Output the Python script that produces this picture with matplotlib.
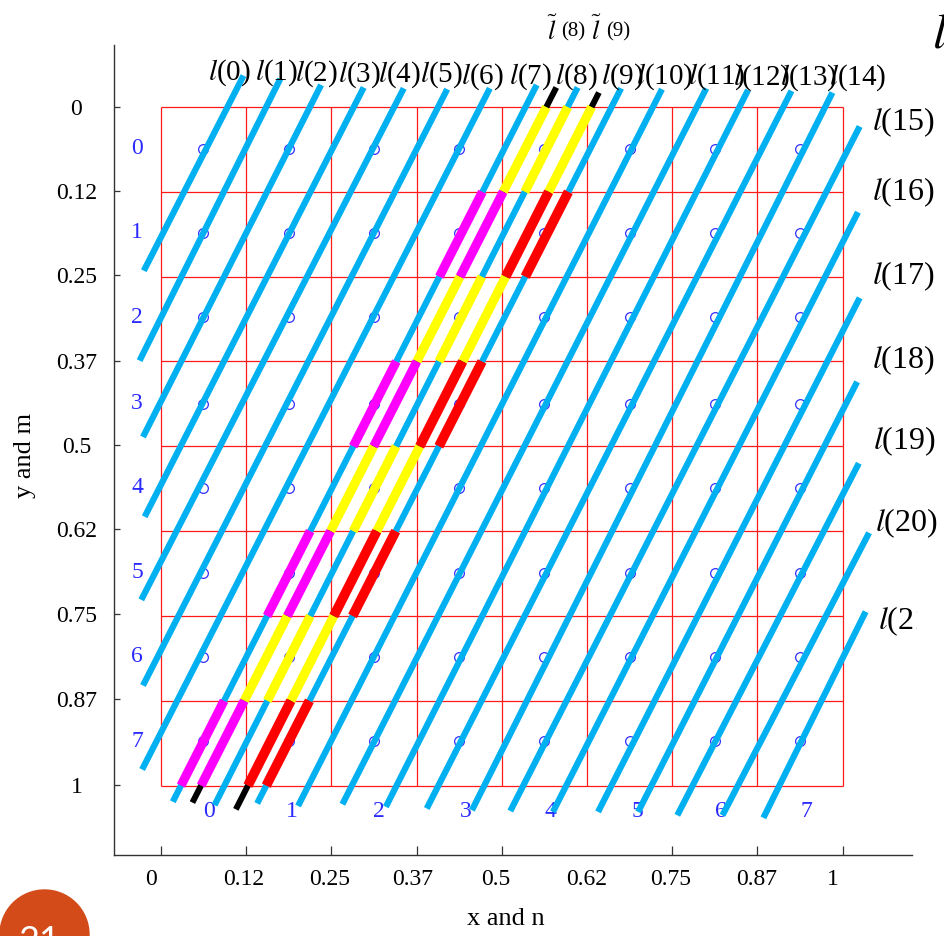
import matplotlib
matplotlib.use("Agg")
import matplotlib.pyplot as plt
from matplotlib.patches import Circle
from matplotlib.transforms import Bbox

plt.rcParams["font.family"] = ["Liberation Serif", "DejaVu Serif"]
plt.rcParams["mathtext.fontset"] = "stix"

# ---- data (cell units: x to the right, y downward, 8 x 8 cells) ----
grid_edges = [0, 1, 2, 3, 4, 5, 6, 7, 8]
cell_numbers = ["0", "1", "2", "3", "4", "5", "6", "7"]
circle_cols = [0.5, 1.5, 2.5, 3.5, 4.5, 5.5, 6.5, 7.5]
circle_rows = [0.49, 1.48, 2.48, 3.5, 4.49, 5.49, 6.48, 7.48]
col_label_x = [0.56, 1.54, 2.56, 3.58, 4.57, 5.59, 6.57, 7.58]

x_tick_marks = [0, 1, 2, 3, 4, 5, 6, 7, 8]
x_tick_text_pos = [-0.12, 0.97, 1.98, 2.96, 3.93, 5.0, 5.98, 6.99, 7.89]
y_tick_marks = [0, 0.99, 1.98, 3.0, 3.99, 4.97, 5.98, 6.98, 7.99]
tick_labels = ["0", "0.12", "0.25", "0.37", "0.5", "0.62", "0.75", "0.87", "1"]

# straight lines l(0) ... l(21): upper and lower end points
line_ids = list(range(22))
top_x = [0.97, 1.40, 1.88, 2.38, 2.85, 3.36, 3.86, 4.41, 4.89, 5.40, 5.88,
         6.40, 6.89, 7.40, 7.88, 8.20, 8.18, 8.20, 8.17, 8.19, 8.31, 8.27]
top_y = [-0.37, -0.33, -0.26, -0.23, -0.22, -0.21, -0.22, -0.26, -0.23, -0.22, -0.21,
         -0.22, -0.20, -0.19, -0.17, 0.23, 1.24, 2.25, 3.24, 4.20, 5.02, 5.95]
bot_x = [-0.20, -0.25, -0.21, -0.19, -0.23, -0.21, -0.22, 0.14, 0.63, 1.13, 1.61,
         2.13, 2.64, 3.12, 3.65, 4.10, 4.60, 5.13, 5.60, 6.06, 6.59, 7.07]
bot_y = [1.93, 2.99, 3.89, 4.83, 5.81, 6.82, 7.81, 8.19, 8.23, 8.21, 8.24,
         8.22, 8.25, 8.27, 8.29, 8.30, 8.31, 8.31, 8.31, 8.35, 8.35, 8.38]

# shifted lines l~(8), l~(9)
tilde_ids = ["8", "9"]
tilde_top_x = [4.64, 5.14]
tilde_top_y = [-0.23, -0.17]
tilde_bot_x = [0.37, 0.88]
tilde_bot_y = [8.20, 8.28]

# highlighted pieces: which lines are coloured in which cell rows
yellow_rows = [0, 2, 4, 6]
yellow_lines = ["~8", 8, "~9"]
magenta_rows = [1, 3, 5, 7]
magenta_lines = [7, "~8"]
red_rows = [1, 3, 5, 7]
red_lines = ["~9", 9]

# label anchors (left edge, baseline)
label_x = [0.55, 1.11, 1.57, 2.08, 2.55, 3.04, 3.52, 4.08, 4.63, 5.17, 5.58,
           6.19, 6.71, 7.26, 7.84, 8.34, 8.34, 8.35, 8.35, 8.36, 8.38, 8.42]
label_y = [-0.32, -0.32, -0.31, -0.30, -0.30, -0.30, -0.28, -0.28, -0.28, -0.27, -0.27,
           -0.27, -0.26, -0.26, -0.26, 0.27, 1.10, 2.09, 3.08, 4.04, 5.00, 6.16]
label_size = [21] * 15 + [23] * 7
tilde_l_x = [4.59, 5.11]
tilde_paren_x = [4.70, 5.22]
tilde_label_y = [-0.79, -0.79]

CYAN = "#00B0F0"
BLUE = "#2a2aff"

fig = plt.figure(figsize=(9.44, 9.36), dpi=100)
ax = fig.add_axes([0.12076, 0.08655, 0.84534, 0.86539])
ax.set_xlim(-0.55, 8.814)
ax.set_ylim(8.818, -0.731)

# red cell grid
ax.vlines(grid_edges, grid_edges[0], grid_edges[-1], color="#ff1a1a", lw=0.9, zorder=1)
ax.hlines(grid_edges, grid_edges[0], grid_edges[-1], color="#ff1a1a", lw=0.9, zorder=1)

# cell centres and indices
for r in circle_rows:
    ax.plot(circle_cols, [r] * len(circle_cols), "o", ms=7, mfc="none",
            mec="#3030ff", mew=0.9, zorder=2)
for num, r in zip(cell_numbers, circle_rows):
    ax.text(-0.28, r, num, color=BLUE, fontsize=17, ha="center", va="center", zorder=2)
for num, cx in zip(cell_numbers, col_label_x):
    ax.text(cx, 8.30, num, color=BLUE, fontsize=17, ha="center", va="center", zorder=2)

# the family of lines
ends = {}
for i in line_ids:
    ends[i] = (top_x[i], top_y[i], bot_x[i], bot_y[i])
    ax.plot([top_x[i], bot_x[i]], [top_y[i], bot_y[i]], color=CYAN, lw=4.5,
            solid_capstyle="butt", zorder=3, clip_on=False)
for k, t in enumerate(tilde_ids):
    ends["~" + t] = (tilde_top_x[k], tilde_top_y[k], tilde_bot_x[k], tilde_bot_y[k])
    ax.plot([tilde_top_x[k], tilde_bot_x[k]], [tilde_top_y[k], tilde_bot_y[k]],
            color="black", lw=4.3, solid_capstyle="butt", zorder=4, clip_on=False)


def x_at(line, y):
    x0, y0, x1, y1 = ends[line]
    return x0 + (x1 - x0) * (y - y0) / (y1 - y0)


for rows, lines, col, lw in [(yellow_rows, yellow_lines, "#ffff00", 6.6),
                             (magenta_rows, magenta_lines, "#ff00ff", 6.6),
                             (red_rows, red_lines, "#ff0000", 7.0)]:
    for line in lines:
        for r in rows:
            ax.plot([x_at(line, r), x_at(line, r + 1)], [r, r + 1], color=col, lw=lw,
                    solid_capstyle="butt", zorder=5)

# line names
name_texts = []
for i in line_ids:
    name_texts.append(ax.text(label_x[i], label_y[i], r"$l$(%d)" % i,
                              fontsize=label_size[i], ha="left", va="baseline",
                              clip_on=False, zorder=6))
# the last name runs past the edge of its text box
name_texts[-1].set_clip_on(True)
name_texts[-1].set_clip_box(Bbox.from_extents(0, 0, 917, 936))

for k, t in enumerate(tilde_ids):
    ax.text(tilde_l_x[k], tilde_label_y[k], r"$\tilde{l}$", fontsize=19,
            ha="center", va="baseline", clip_on=False, zorder=6)
    ax.text(tilde_paren_x[k], tilde_label_y[k] - 0.04, "(%s)" % t, fontsize=15,
            ha="left", va="baseline", clip_on=False, zorder=6)
ax.text(9.05, -0.707, r"$l$", fontsize=36, ha="left", va="baseline", clip_on=False)

# axes styling
for side in ["top", "right"]:
    ax.spines[side].set_visible(False)
for side in ["left", "bottom"]:
    ax.spines[side].set_color("#333333")
    ax.spines[side].set_linewidth(1.0)

ax.set_xticks(x_tick_text_pos, tick_labels)
ax.set_xticks(x_tick_marks, minor=True)
ax.set_yticks(y_tick_marks, tick_labels)
ax.tick_params(axis="x", which="major", length=0, pad=10, labelsize=17)
ax.tick_params(axis="x", which="minor", direction="in", length=6.5, width=0.9, color="#333333")
ax.tick_params(axis="y", which="major", direction="in", length=4.3, width=0.9,
               color="#333333", pad=27, labelsize=17)
for lab in ax.get_yticklabels():
    lab.set_ha("center")

ax.set_xlabel("x and n", fontsize=19)
ax.xaxis.set_label_coords(0.491, -0.0790)
ax.xaxis.label.set_va("center")
ax.set_ylabel("y and m", fontsize=19)
ax.yaxis.set_label_coords(-0.111, 0.4936)
ax.yaxis.label.set_va("center")

# slide page badge
fig.add_artist(Circle((0.445, 0.015), 0.445, transform=fig.dpi_scale_trans,
                      color="#d24b19", zorder=10))
fig.text(0.39, 0.115, "21", transform=fig.dpi_scale_trans, color="white",
         fontsize=26, family="Lato", ha="center", va="top", zorder=11)

fig.savefig("out.png", dpi=100)
